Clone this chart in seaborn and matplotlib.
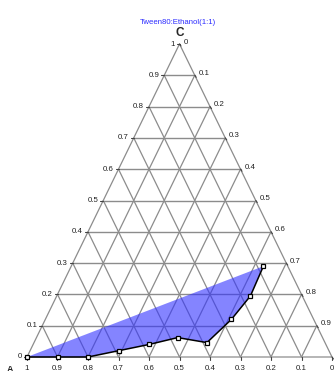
import numpy as np
import pandas as pd
import matplotlib
matplotlib.use("Agg")
import matplotlib.pyplot as plt
import seaborn as sns

# Data (ternary compositions)
comp_A = [1.0, 0.9, 0.8, 0.69, 0.58, 0.475, 0.387, 0.27, 0.17, 0.08]
comp_B = [0.0, 0.1, 0.2, 0.29, 0.38, 0.463, 0.567, 0.61, 0.635, 0.63]
comp_C = [0.0, 0.0, 0.0, 0.02, 0.04, 0.062, 0.046, 0.12, 0.195, 0.29]
tick_values = [0, 0.1, 0.2, 0.3, 0.4, 0.5, 0.6, 0.7, 0.8, 0.9, 1]
tick_labels = ["0", "0.1", "0.2", "0.3", "0.4", "0.5", "0.6", "0.7", "0.8", "0.9", "1"]
title = "Tween80:Ethanol(1:1)"

sns.set_style("white")
plt.rcParams['font.family'] = ['Liberation Sans', 'DejaVu Sans']

W, H = 334, 371
fig = plt.figure(figsize=(W / 100, H / 100), dpi=100)
left_px, right_px, bot_px, top_px = 27, 332, 357, 44
ax = fig.add_axes([left_px / W, (H - bot_px) / H, (right_px - left_px) / W, (bot_px - top_px) / H])
ax.set_xlim(0, 1)
ax.set_ylim(0, 1)
ax.axis("off")


def tern(b, c):
    b = np.asarray(b, float)
    c = np.asarray(c, float)
    return b + c / 2, c


gcol = "#8c8c8c"
glw = 0.9
# grid lines
for k in range(1, 10):
    v = k / 10
    # constant C
    x, y = tern([0, 1 - v], [v, v])
    ax.plot(x, y, color=gcol, lw=1.0, clip_on=False, zorder=1)
    # constant A
    x, y = tern([0, 1 - v], [1 - v, 0])
    ax.plot(x, y, color=gcol, lw=glw, clip_on=False, zorder=1)
    # constant B
    x, y = tern([v, v], [1 - v, 0])
    ax.plot(x, y, color=gcol, lw=glw, clip_on=False, zorder=1)
# border
x, y = tern([0, 1, 0, 0], [0, 0, 1, 0])
ax.plot(x, y, color=gcol, lw=glw, clip_on=False, zorder=1)

# data
xs, ys = tern(comp_B, comp_C)
df = pd.DataFrame({"x": xs, "y": ys})
ax.fill(np.append(xs, xs[0]), np.append(ys, ys[0]), color=(0.2, 0.2, 1.0), alpha=0.6,
        lw=0, zorder=2, clip_on=False)
sns.lineplot(data=df, x="x", y="y", sort=False, estimator=None, ax=ax, color="black",
             lw=1.1, marker="s", markersize=3.2, markerfacecolor="white",
             markeredgecolor="black", markeredgewidth=0.9, zorder=4, clip_on=False)
ax.set_xlabel("")
ax.set_ylabel("")
ax.axis("off")

fs = 5.7
dx = 1 / (right_px - left_px)
dy = 1 / (bot_px - top_px)
tcol = "#222222"
for v, lab in zip(tick_values, tick_labels):
    # left edge: C values
    x, y = tern(0, v)
    ax.plot([x - 3 * dx, x], [y, y], color="#444444", lw=0.8, clip_on=False, zorder=3)
    ax.text(x - 5 * dx, y, lab, ha="right", va="center", fontsize=fs, color=tcol, clip_on=False)
    # right edge: B values
    x, y = tern(v, 1 - v)
    ax.plot([x, x + 1.5 * dx], [y, y - 2 * dy], color="#444444", lw=0.8, clip_on=False, zorder=3)
    ax.text(x + 4 * dx, y + 2 * dy, lab, ha="left", va="center", fontsize=fs, color=tcol, clip_on=False)
    # bottom edge: A values
    x, y = tern(1 - v, 0)
    ax.plot([x, x], [y, y - 3 * dy], color="#444444", lw=0.8, clip_on=False, zorder=3)
    ax.text(x, y - 11 * dy, lab, ha="center", va="center", fontsize=fs, color=tcol, clip_on=False)

ax.text(0.5, 1 + 11 * dy, "C", ha="center", va="center", fontsize=8.5, fontweight="bold", clip_on=False)
ax.text(-17 * dx, -12 * dy, "A", ha="center", va="center", fontsize=6.5, fontweight="bold", clip_on=False)
fig.text(178 / W, 1 - 22 / H, title, ha="center", va="center", fontsize=5.6, color="#2b2bff")

fig.savefig("out.png", dpi=100)
